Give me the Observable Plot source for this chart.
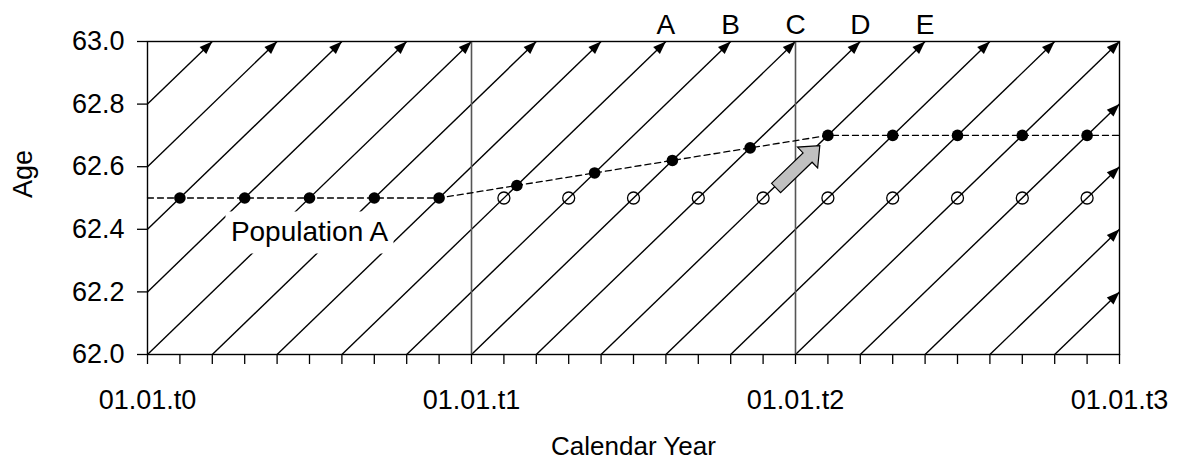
<!DOCTYPE html>
<html><head><meta charset="utf-8">
<script src="https://cdn.jsdelivr.net/npm/d3@7"></script>
<script src="https://cdn.jsdelivr.net/npm/@observablehq/plot@0.6"></script>
<style>html,body{margin:0;padding:0;background:#fff} svg{display:block}</style>
</head><body><div id="chart"></div>
<script>
// ---- data ----
const xTickValues = [0,0.1,0.2,0.3,0.4,0.5,0.6,0.7,0.8,0.9,1,1.1,1.2,1.3,1.4,1.5,1.6,1.7,1.8,1.9,2,2.1,2.2,2.3,2.4,2.5,2.6,2.7,2.8,2.9,3];
const xTickLabels = ["01.01.t0","01.01.t1","01.01.t2","01.01.t3"];
const yTickValues = [62.0,62.2,62.4,62.6,62.8,63.0];
const yearLines = [1, 2];
const cohortStarts = [-0.8,-0.6,-0.4,-0.2,0,0.2,0.4,0.6,0.8,1.0,1.2,1.4,1.6,1.8,2.0,2.2,2.4,2.6,2.8];
const filledX   = [0.1,0.3,0.5,0.7,0.9,1.14,1.38,1.62,1.86,2.1,2.3,2.5,2.7,2.9];
const filledAge = [62.5,62.5,62.5,62.5,62.5,62.54,62.58,62.62,62.66,62.7,62.7,62.7,62.7,62.7];
const openX   = [1.1,1.3,1.5,1.7,1.9,2.1,2.3,2.5,2.7,2.9];
const openAge = [62.5,62.5,62.5,62.5,62.5,62.5,62.5,62.5,62.5,62.5];
const pathX   = [0,0.1,0.3,0.5,0.7,0.9,1.14,1.38,1.62,1.86,2.1,2.3,2.5,2.7,2.9,3];
const pathAge = [62.5,62.5,62.5,62.5,62.5,62.5,62.54,62.58,62.62,62.66,62.7,62.7,62.7,62.7,62.7,62.7];
const cohortLabels = ["A","B","C","D","E"];
const cohortLabelX = [1.6,1.8,2.0,2.2,2.4];
const popLabel = ["Population A"];
const popLabelX = [0.5];
const popLabelAge = [62.39];
const shiftFrom = [1.94, 62.532];
const shiftTo = [2.075, 62.667];

// ---- layout ----
const W = 1177, H = 462, mL = 147, mR = 58, mT = 41, mB = 108;
const X0 = 0, X1 = 3, Y0 = 62, Y1 = 63;
const kx = (W - mL - mR) / (X1 - X0), ky = (H - mT - mB) / (Y1 - Y0);

const diagonals = cohortStarts.map(s => {
  const xa = Math.max(s, X0), xb = Math.min(s + 1, X1);
  return {x1: xa, y1: Y0 + (xa - s), x2: xb, y2: Y0 + (xb - s)};
});
const lineAngle = Math.atan2(kx, ky) * 180 / Math.PI;

const arrowHead = {draw(ctx) { ctx.moveTo(0, 0); ctx.lineTo(-4.8, 13); ctx.lineTo(4.8, 13); ctx.closePath(); }};

const sdx = (shiftTo[0] - shiftFrom[0]) * kx, sdy = (shiftTo[1] - shiftFrom[1]) * ky;
const shiftLen = Math.hypot(sdx, sdy), shiftAngle = Math.atan2(sdx, sdy) * 180 / Math.PI;
const blockArrow = {draw(ctx) {
  const L = shiftLen, s = 6.5, h = 14.5, hl = 17;
  ctx.moveTo(-s, 0); ctx.lineTo(-s, -(L - hl)); ctx.lineTo(-h, -(L - hl)); ctx.lineTo(0, -L);
  ctx.lineTo(h, -(L - hl)); ctx.lineTo(s, -(L - hl)); ctx.lineTo(s, 0); ctx.closePath();
}};
const labelBox = {draw(ctx) { ctx.rect(-84, -21, 168, 42); }};

const fmtX = d => { const r = Math.round(d); return Math.abs(d - r) < 1e-9 ? xTickLabels[r] : ""; };

const chart = Plot.plot({
  width: W, height: H,
  marginLeft: mL, marginRight: mR, marginTop: mT, marginBottom: mB,
  style: {fontFamily: "'Liberation Sans', Arial, sans-serif", fontSize: "27px", color: "black", background: "white"},
  x: {domain: [X0, X1]},
  y: {domain: [Y0, Y1]},
  marks: [
    Plot.link(diagonals, {x1: "x1", y1: "y1", x2: "x2", y2: "y2", stroke: "black", strokeWidth: 1.4}),
    Plot.dot(diagonals, {x: "x2", y: "y2", symbol: arrowHead, rotate: lineAngle, fill: "black", stroke: "none"}),
    Plot.ruleX(yearLines, {stroke: "#555", strokeWidth: 1.6}),
    Plot.dot(popLabelX.map((x, i) => ({x, y: popLabelAge[i]})), {x: "x", y: "y", symbol: labelBox, fill: "white", stroke: "none"}),
    Plot.text(popLabel, {x: popLabelX, y: popLabelAge, text: d => d, lineAnchor: "middle", textAnchor: "middle", fontSize: 28}),
    Plot.line(pathX.map((x, i) => ({x, y: pathAge[i]})), {x: "x", y: "y", stroke: "black", strokeWidth: 1.3, strokeDasharray: "6,4"}),
    Plot.dot(openX.map((x, i) => ({x, y: openAge[i]})), {x: "x", y: "y", r: 6, fill: "none", stroke: "black", strokeWidth: 1.3}),
    Plot.dot(filledX.map((x, i) => ({x, y: filledAge[i]})), {x: "x", y: "y", r: 5.8, fill: "black", stroke: "none"}),
    Plot.dot([{x: shiftFrom[0], y: shiftFrom[1]}], {x: "x", y: "y", symbol: blockArrow, rotate: shiftAngle, fill: "#c0c0c0", stroke: "black", strokeWidth: 1.2}),
    Plot.text(cohortLabels, {x: cohortLabelX, y: cohortLabelX.map(() => Y1), text: d => d, dy: -8, lineAnchor: "bottom", fontSize: 28}),
    Plot.frame({stroke: "black", strokeWidth: 1.4}),
    Plot.axisX({ticks: xTickValues, tickFormat: fmtX, tickSize: 10, tickPadding: 25, label: null, strokeWidth: 1.3}),
    Plot.axisY({ticks: yTickValues, tickFormat: d3.format(".1f"), tickSize: 10, tickPadding: 13, label: null, strokeWidth: 1.3}),
    Plot.text(["Calendar Year"], {frameAnchor: "bottom", dy: 100, lineAnchor: "bottom", fontSize: 26}),
    Plot.text(["Age"], {frameAnchor: "left", rotate: -90, dx: -124, lineAnchor: "middle"})
  ]
});
document.getElementById("chart").appendChild(chart);
</script>
</body></html>
